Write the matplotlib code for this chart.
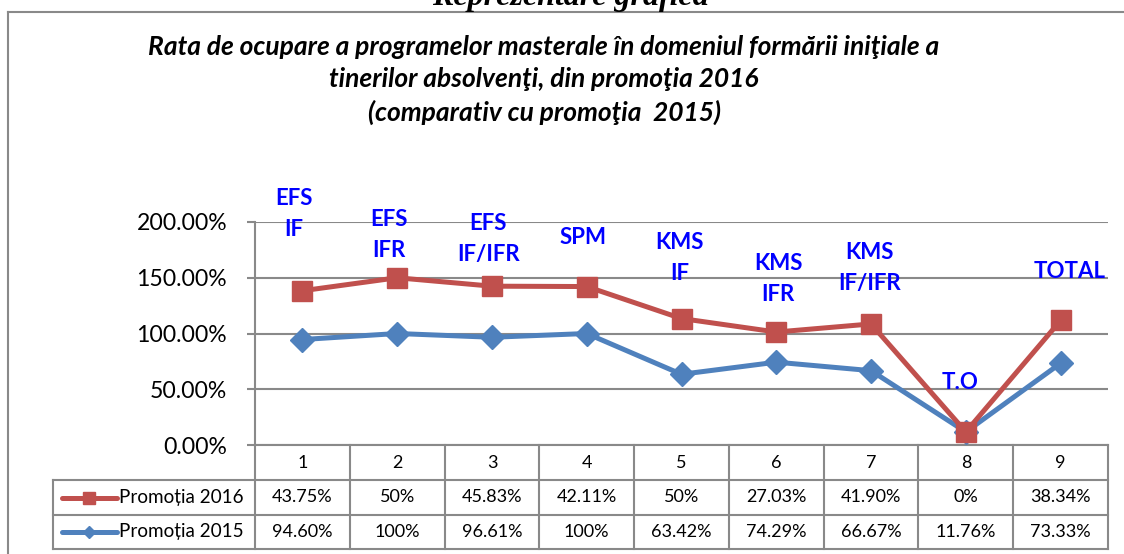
import matplotlib
matplotlib.use("Agg")
import matplotlib.pyplot as plt
from matplotlib.lines import Line2D
import numpy as np

categories = ["1", "2", "3", "4", "5", "6", "7", "8", "9"]
promo_2016 = [43.75, 50, 45.83, 42.11, 50, 27.03, 41.90, 0, 38.34]
promo_2015 = [94.60, 100, 96.61, 100, 63.42, 74.29, 66.67, 11.76, 73.33]
labels_2016 = ["43.75%", "50%", "45.83%", "42.11%", "50%", "27.03%", "41.90%", "0%", "38.34%"]
labels_2015 = ["94.60%", "100%", "96.61%", "100%", "63.42%", "74.29%", "66.67%", "11.76%", "73.33%"]
point_names = ["EFS\nIF", "EFS\nIFR", "EFS\nIF/IFR", "SPM", "KMS\nIF", "KMS\nIFR",
               "KMS\nIF/IFR", "T.O", "TOTAL"]
# label placement (category x, value y) for the blue names
name_x = [0.91, 1.91, 2.96, 3.96, 4.98, 6.02, 6.98, 7.94, 9.09]
name_y = [207, 188, 185, 186.5, 168, 149, 159, 56.5, 156]

RED = "#C0504D"
BLUE = "#4F81BD"
GRID = "#898989"
FONT = "Lato"

W, H = 1124, 554
fig = plt.figure(figsize=(W / 100, H / 100), dpi=100)


def px(x, y):
    return x / W, 1 - y / H


# axes placement in pixels
x0, x1 = 255, 1108
y0, y1 = 445, 222
ax = fig.add_axes([x0 / W, 1 - y0 / H, (x1 - x0) / W, (y0 - y1) / H])

xs = np.arange(1, len(categories) + 1)
# stacked line chart: 2016 series sits on top of 2015
stacked = np.array(promo_2015) + np.array(promo_2016)

ax.plot(xs, promo_2015, color=BLUE, lw=3.6, marker="D", ms=12, mfc=BLUE, mec=BLUE,
        zorder=3, clip_on=False)
ax.plot(xs, stacked, color=RED, lw=3.6, marker="s", ms=14, mfc=RED, mec=RED,
        zorder=4, clip_on=False)

ax.set_xlim(0.5, len(categories) + 0.5)
ax.set_ylim(0, 200)
ax.set_yticks([0, 50, 100, 150, 200])
ax.set_yticklabels(["0.00%", "50.00%", "100.00%", "150.00%", "200.00%"],
                   fontsize=16.6, family=FONT)
ax.set_xticks([])
ax.tick_params(axis="y", length=6, width=1.5, color=GRID, pad=14)
ax.grid(axis="y", color=GRID, lw=1.5)
ax.set_axisbelow(True)
for s in ["top", "right"]:
    ax.spines[s].set_visible(False)
for s in ["left", "bottom"]:
    ax.spines[s].set_color(GRID)
    ax.spines[s].set_linewidth(1.5)

for nm, nx, ny in zip(point_names, name_x, name_y):
    ax.text(nx, ny, nm, ha="center", va="center", color="#0000FF", fontsize=16,
            fontweight="bold", family=FONT, linespacing=1.6, clip_on=False, zorder=5)

# data table below the plot
col_w = (x1 - x0) / len(categories)
r0, r1, r2, r3 = 445, 480, 515, 549
tl = 53
lk = dict(color=GRID, lw=1.5, transform=fig.transFigure)
for yy in [r1, r2, r3]:
    fig.add_artist(Line2D(*zip(px(tl, yy), px(x1, yy)), **lk))
fig.add_artist(Line2D(*zip(px(tl, r1), px(tl, r3)), **lk))
for i in range(len(categories) + 1):
    xx = x0 + i * col_w
    fig.add_artist(Line2D(*zip(px(xx, r0), px(xx, r3)), **lk))

tk = dict(ha="center", va="center", fontsize=13, family=FONT, color="black")
for i, c in enumerate(categories):
    cx = x0 + (i + 0.5) * col_w
    fig.text(*px(cx, (r0 + r1) / 2), c, **tk)
    fig.text(*px(cx, (r1 + r2) / 2), labels_2016[i], **tk)
    fig.text(*px(cx, (r2 + r3) / 2), labels_2015[i], **tk)

# legend keys in the table
for (ya, yb), col, mk, ms, name in [((r1, r2), RED, "s", 8, "Promoția 2016"),
                                   ((r2, r3), BLUE, "D", 6, "Promoția 2015")]:
    yc = (ya + yb) / 2
    fig.add_artist(Line2D(*zip(px(62, yc), px(117, yc)), color=col, lw=3.6,
                          solid_capstyle="round", transform=fig.transFigure))
    fig.add_artist(Line2D([px(89, yc)[0]], [px(89, yc)[1]], marker=mk, ms=ms, color=col,
                          transform=fig.transFigure))
    fig.text(*px(119, yc), name, ha="left", va="center", fontsize=13.6, family=FONT)

# outer chart border (top and left edges visible)
fig.add_artist(Line2D(*zip(px(8, 12), px(W, 12)), **lk))
fig.add_artist(Line2D(*zip(px(8, 12), px(8, H)), **lk))

# titles
fig.text(*px(544, 80), "Rata de ocupare a programelor masterale în domeniul formării iniţiale a\n"
         "tinerilor absolvenţi, din promoţia 2016\n(comparativ cu promoţia  2015)",
         ha="center", va="center", fontsize=19, fontweight="bold", style="italic",
         family=FONT, linespacing=1.42)
fig.text(*px(570, 5), "Reprezentare grafică", ha="center", va="baseline", fontsize=23,
         fontweight="bold", style="italic", family="Liberation Serif")

fig.savefig("out.png", dpi=100)
